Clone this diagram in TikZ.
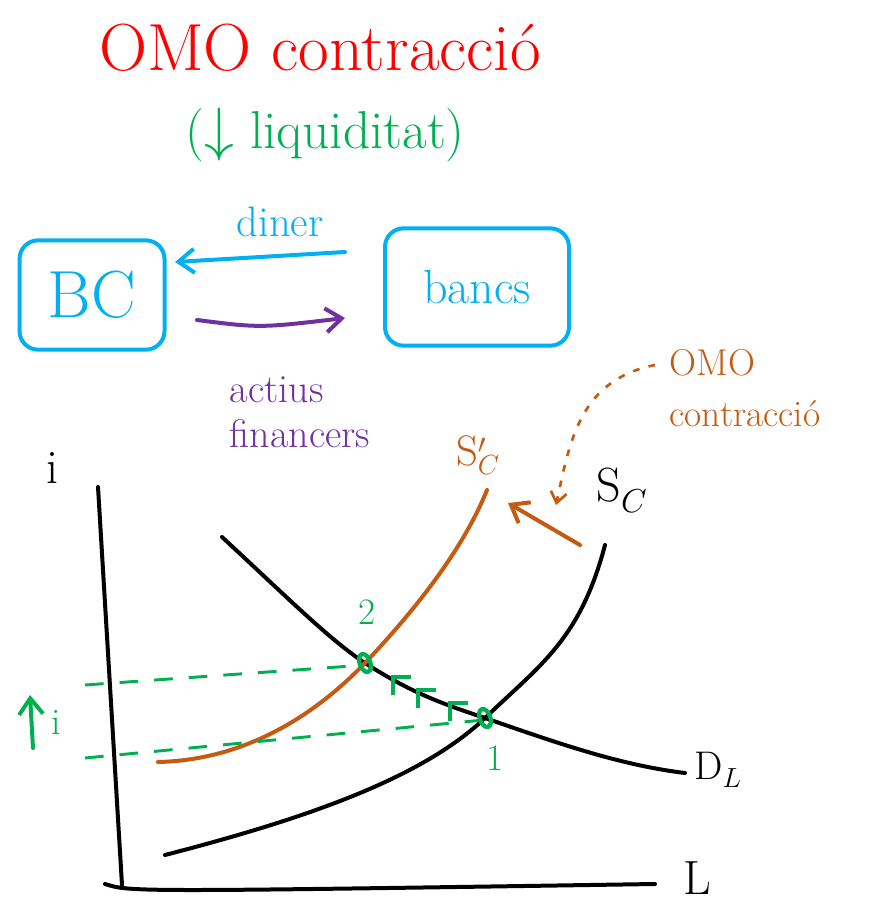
\documentclass[tikz,border=0pt]{standalone}
\usetikzlibrary{arrows.meta,shapes.geometric}
\definecolor{cred}{RGB}{255,0,0}
\definecolor{cgreen}{RGB}{0,176,80}
\definecolor{cblue}{RGB}{0,176,240}
\definecolor{cpurple}{RGB}{112,48,160}
\definecolor{corange}{RGB}{197,90,17}
\tikzset{
  curve/.style={line width=3pt, line cap=round},
  boxstyle/.style={draw=cblue, line width=3pt, rounded corners=14pt, minimum width=#1},
  greendash/.style={cgreen, line width=2.2pt, dash pattern=on 14pt off 12pt},
  handarrow/.style={line width=3pt, line cap=round, -{Straight Barb[length=12pt, width=18pt, line width=3pt]}},
  eqpt/.style={draw=cgreen, line width=3.2pt, ellipse, inner sep=0pt, minimum width=8pt, minimum height=14pt, rotate=20},
  lbl/.style={inner sep=1pt},
}
\begin{document}
\begin{tikzpicture}[x=0.75pt, y=-0.75pt]
\useasboundingbox (0,0) rectangle (890,907);

% title
\node[lbl, text=cred, font=\fontsize{50}{56}\selectfont] (title) at (320,48) {OMO contracció};
\node[lbl, text=cgreen, font=\fontsize{40}{46}\selectfont] (liq) at (325,135) {(\raisebox{-1pt}{\scalebox{1.8}{$\downarrow$}} liquiditat)};

% boxes
\node[boxstyle=145*0.75pt, minimum height=82pt, text=cblue, font=\fontsize{50}{56}\selectfont] (bc) at (92,295) {BC};
\node[boxstyle=184*0.75pt, minimum height=88pt, text=cblue, font=\fontsize{36}{42}\selectfont] (bancs) at (477,287) {bancs};

\coordinate (dinS) at (345,252);
\coordinate (dinE) at (175,262);
\draw[handarrow, cblue] (dinS) -- (dinE);
\node[lbl, text=cblue, font=\fontsize{32}{38}\selectfont] (diner) at (280,222) {diner};

\coordinate (actS) at (197,320);
\coordinate (actE) at (345,318);
\draw[handarrow, cpurple] (actS) .. controls (260,328) .. (actE);
\node[lbl, text=cpurple, font=\fontsize{30}{34}\selectfont, align=left] (actius) at (300,412) {actius\\financers};

% axes
\coordinate (yt) at (98,487);
\coordinate (yb) at (122,885);
\coordinate (xl) at (105,884);
\coordinate (xr) at (655,884);
\draw[curve, black] (yt) -- (yb);
\draw[curve, black] (xl) .. controls (130,892) .. (xr);
\node[lbl, font=\fontsize{36}{40}\selectfont] (ilab) at (52,468) {i};
\node[lbl, font=\fontsize{36}{40}\selectfont] (Llab) at (697,878) {L};

% curves
\draw[curve, black] (222,537) .. controls (290,600) and (330,640) .. (365,663)
   .. controls (410,692) and (440,703) .. (485,718)
   .. controls (560,744) and (620,765) .. (685,773);
\draw[curve, black] (165,855) .. controls (300,820) and (420,780) .. (485,718)
   .. controls (540,665) and (580,640) .. (605,545);
\draw[curve, corange] (158,762) .. controls (250,760) and (320,710) .. (365,663)
   .. controls (420,605) and (465,545) .. (487,490);

\node[lbl, font=\fontsize{30}{34}\selectfont] (DL) at (718,770) {D$_L$};
\node[lbl, font=\fontsize{36}{40}\selectfont] (SC) at (622,490) {S$_C$};
\node[lbl, text=corange, font=\fontsize{32}{36}\selectfont] (SCp) at (478,455) {S$_C'$};

% shift arrow
\coordinate (shS) at (580,545);
\coordinate (shE) at (508,503);
\draw[handarrow, corange] (shS) -- (shE);

% OMO note
\node[lbl, text=corange, font=\fontsize{28}{38}\selectfont, align=left, anchor=west] (omo) at (668,388) {OMO\\contracció};
\coordinate (omoS) at (655,365);
\coordinate (omoE) at (556,505);
\draw[corange, line width=2pt, dash pattern=on 5pt off 7pt, -{Straight Barb[length=8pt, width=12pt, line width=2pt]}] (omoS) .. controls (580,380) and (570,440) .. (omoE);

% green dashed guides
\coordinate (g2l) at (85,685);
\coordinate (g1l) at (85,758);
\node[eqpt] (p2) at (365,663) {};
\node[eqpt] (p1) at (485,718) {};
\draw[greendash] (g2l) -- (p2.west);
\draw[greendash] (g1l) -- (p1.west);
\node[lbl, text=cgreen, font=\fontsize{28}{32}\selectfont] (n2) at (367,612) {2};
\node[lbl, text=cgreen, font=\fontsize{28}{32}\selectfont] (n1) at (495,758) {1};

% movement ticks along D_L
\foreach \x/\y in {393/677, 418/690, 450/703}{
  \draw[cgreen, line width=2.3pt] (\x,\y+18) -- (\x,\y) -- (\x+18,\y);
}

% up i
\coordinate (ua) at (33,748);
\coordinate (ub) at (30,695);
\draw[handarrow, cgreen] (ua) -- (ub);
\node[lbl, text=cgreen, font=\fontsize{28}{32}\selectfont] (ui) at (56,722) {i};
\end{tikzpicture}
\end{document}
